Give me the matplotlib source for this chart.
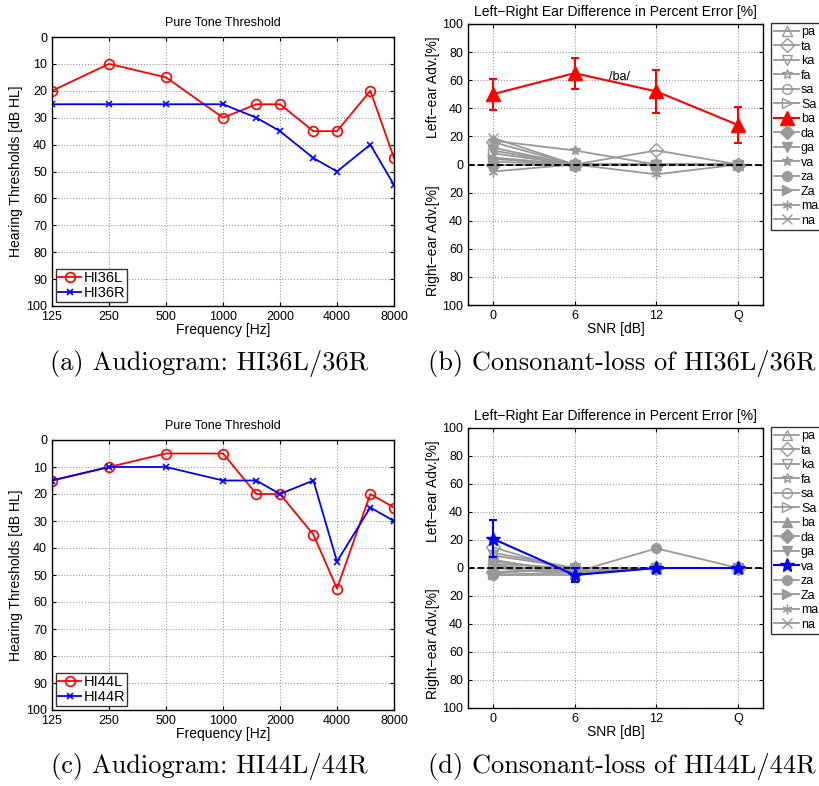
import matplotlib
matplotlib.use("Agg")
import matplotlib.pyplot as plt
from matplotlib.ticker import FixedLocator, FuncFormatter

plt.rcParams['font.family'] = ['Liberation Sans', 'DejaVu Sans']

W, H = 820, 786

# audiogram data (dB HL)
freqs = [125, 250, 500, 1000, 1500, 2000, 3000, 4000, 6000, 8000]
freq_ticks = [125, 250, 500, 1000, 2000, 4000, 8000]
hi36l = [20, 10, 15, 30, 25, 25, 35, 35, 20, 45]
hi36r = [25, 25, 25, 25, 30, 35, 45, 50, 40, 55]
hi44l = [15, 10, 5, 5, 20, 20, 35, 55, 20, 25]
hi44r = [15, 10, 10, 15, 15, 20, 15, 45, 25, 30]

# left-right ear difference per consonant, SNR 0, 6, 12 dB and quiet
snr_labels = ['0', '6', '12', 'Q']
consonants = ['pa', 'ta', 'ka', 'fa', 'sa', 'Sa', 'ba', 'da', 'ga', 'va', 'za', 'Za', 'ma', 'na']
diff_36 = {
    'pa': [5, 0, 0, 0], 'ta': [16, 0, 10, 0], 'ka': [2, 0, 0, 0], 'fa': [12, 0, 0, 0],
    'sa': [0, 0, 0, 0], 'Sa': [8, 0, 0, 0], 'ba': [50, 65, 52, 28], 'da': [0, 0, 0, 0],
    'ga': [10, 0, 0, 0], 'va': [17, 10, 0, 0], 'za': [0, 0, 0, 0], 'Za': [4, 0, 0, 0],
    'ma': [-5, 0, -7, 0], 'na': [19, 0, 0, 0],
}
ba_err_36 = [11, 11, 15, 13]
diff_44 = {
    'pa': [11, 0, 0, 0], 'ta': [15, -3, 0, 0], 'ka': [9, 0, 0, 0], 'fa': [5, -2, 0, 0],
    'sa': [3, 0, 0, 0], 'Sa': [0, -4, 0, 0], 'ba': [0, 0, 0, 0], 'da': [-3, 0, 0, 0],
    'ga': [2, -3, 0, 0], 'va': [21, -5, 0, 0], 'za': [-5, -3, 14, 0], 'Za': [-4, 0, 0, 0],
    'ma': [-5, -5, 0, 0], 'na': [6, -4, 0, 0],
}
va_err_44 = [13, 5, 1, 1]

# marker style per consonant: (marker, filled)
markers = {
    'pa': ('^', False), 'ta': ('D', False), 'ka': ('v', False), 'fa': ('*', False),
    'sa': ('o', False), 'Sa': ('>', False), 'ba': ('^', True), 'da': ('D', True),
    'ga': ('v', True), 'va': ('*', True), 'za': ('o', True), 'Za': ('>', True),
    'ma': ((6, 2, 0), False), 'na': ('x', False),
}
GRAY = '#999999'

fig = plt.figure(figsize=(W / 100, H / 100), dpi=100)


def px_axes(l, t, r, b):
    return fig.add_axes([l / W, 1 - b / H, (r - l) / W, (b - t) / H])


def matlab_box(ax):
    ax.tick_params(direction='in', top=True, right=True, labelsize=9, length=3)
    for s in ax.spines.values():
        s.set_linewidth(1.0)
    ax.grid(True, linestyle=':', color='#999999', linewidth=0.8)
    ax.set_axisbelow(True)


def audiogram(ax, left, right, lname, rname):
    ax.plot(freqs, left, '-o', color='red', mfc='none', ms=7, lw=1.3, mew=1.2, label=lname)
    ax.plot(freqs, right, '-x', color='blue', ms=5, lw=1.3, mew=1.2, label=rname)
    ax.set_xscale('log', base=2)
    ax.set_xlim(125, 8000)
    ax.set_ylim(100, 0)
    ax.xaxis.set_major_locator(FixedLocator(freq_ticks))
    ax.xaxis.set_minor_locator(FixedLocator([]))
    ax.xaxis.set_major_formatter(FuncFormatter(lambda v, p: '%d' % round(v)))
    ax.set_yticks(range(0, 101, 10))
    matlab_box(ax)
    ax.set_title('Pure Tone Threshold', fontsize=9, pad=8)
    ax.set_xlabel('Frequency [Hz]', fontsize=10, labelpad=0)
    ax.set_ylabel('Hearing Thresholds [dB HL]', fontsize=10, labelpad=2)
    ax.legend(loc='lower left', fontsize=10.5, frameon=True, fancybox=False,
              edgecolor='black', borderpad=0.15, handlelength=1.6,
              handletextpad=0.15, labelspacing=0.1, borderaxespad=0.25)


def ear_diff(ax, data, hl, err, hl_color, note=None):
    xs = range(len(snr_labels))
    handles = {}
    for c in consonants:
        if c == hl:
            continue
        m, filled = markers[c]
        h, = ax.plot(xs, data[c], '-', marker=m, color=GRAY, lw=1.3,
                     mfc=GRAY if filled else 'none', mec=GRAY, ms=7, mew=1.0, zorder=3)
        handles[c] = h
    ax.axhline(0, color='black', ls='--', lw=1.3, zorder=4)
    m, filled = markers[hl]
    eb = ax.errorbar(xs, data[hl], yerr=err, color=hl_color, lw=1.5, marker=m,
                     ms=10, mfc=hl_color, mec=hl_color, capsize=3, elinewidth=1.5,
                     capthick=1.5, zorder=5)
    handles[hl] = eb.lines[0]
    if note:
        ax.text(1.55, 62, note, fontsize=9, ha='center', va='center', zorder=6)
    ax.set_xlim(-0.3, 3.3)
    ax.set_ylim(-100, 100)
    ax.set_xticks(list(xs))
    ax.set_xticklabels(snr_labels)
    ax.set_yticks(range(-100, 101, 20))
    ax.yaxis.set_major_formatter(FuncFormatter(lambda v, p: '%d' % abs(round(v))))
    matlab_box(ax)
    ax.set_title('Left\u2212Right Ear Difference in Percent Error [%]', fontsize=10, pad=6)
    ax.set_xlabel('SNR [dB]', fontsize=10, labelpad=0)
    tr = ax.get_yaxis_transform()
    ax.text(-0.12, 55, 'Left\u2212ear Adv.[%]', transform=tr, rotation=90,
            ha='center', va='center', fontsize=10)
    ax.text(-0.12, -54, 'Right\u2212ear Adv.[%]', transform=tr, rotation=90,
            ha='center', va='center', fontsize=10)
    return [handles[c] for c in consonants]


def side_legend(handles, top):
    fig.legend(handles, consonants, loc='upper left',
               bbox_to_anchor=(771 / W, 1 - top / H), fontsize=9, frameon=True,
               fancybox=False, edgecolor='black', borderpad=0.25, handlelength=2.0,
               handletextpad=0.15, labelspacing=0.2, borderaxespad=0)


ax_a = px_axes(52, 37, 394, 306)
audiogram(ax_a, hi36l, hi36r, 'HI36L', 'HI36R')

ax_b = px_axes(468, 24, 763, 305)
hb = ear_diff(ax_b, diff_36, 'ba', ba_err_36, 'red', note='/ba/')
side_legend(hb, 23)

ax_c = px_axes(52, 440, 394, 710)
audiogram(ax_c, hi44l, hi44r, 'HI44L', 'HI44R')

ax_d = px_axes(468, 428, 763, 708)
hd = ear_diff(ax_d, diff_44, 'va', va_err_44, 'blue')
side_legend(hd, 427)

captions = [
    (209, 363, '(a) Audiogram: HI36L/36R'),
    (622, 363, '(b) Consonant-loss of HI36L/36R'),
    (209, 767, '(c) Audiogram: HI44L/44R'),
    (622, 767, '(d) Consonant-loss of HI44L/44R'),
]
for x, y, s in captions:
    fig.text(x / W, 1 - y / H, s, ha='center', va='center', fontsize=19, family='cmr10')

fig.savefig('out.png', dpi=100)
